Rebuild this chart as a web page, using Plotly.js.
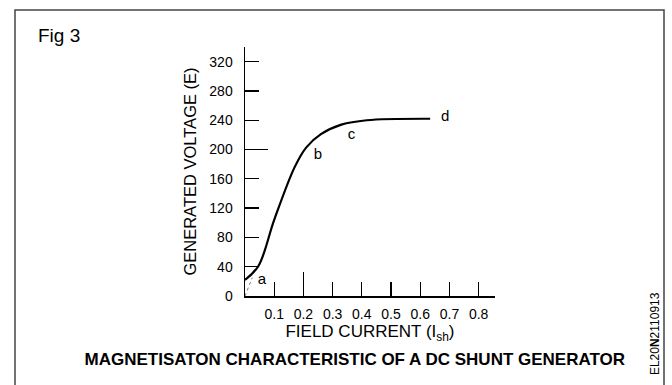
<!DOCTYPE html>
<html>
<head>
<meta charset="utf-8">
<script src="https://cdn.plot.ly/plotly-3.0.1.min.js"></script>
<style>html,body{margin:0;padding:0;background:#fff;}#chart{width:672px;height:385px;}</style>
</head>
<body>
<div id="chart"></div>
<script>
// Magnetisation curve (field current vs generated voltage)
const fieldCurrent = [0, 0.046, 0.1, 0.17, 0.21, 0.26, 0.33, 0.417, 0.634];
const generatedVoltage = [22, 41, 104, 176, 203, 221, 234, 240, 242];
// Residual-magnetism construction line
const residualX = [0, 0.025];
const residualY = [0, 25];
// Point labels on the curve
const pointLabels = ['a', 'b', 'c', 'd'];
const pointLabelX = [0.058, 0.25, 0.365, 0.685];
const pointLabelY = [22, 192, 220, 244];
// Axis ticks
const xTickVals = [0.1, 0.2, 0.3, 0.4, 0.5, 0.6, 0.7, 0.8];
const xTickText = ['0.1', '0.2', '0.3', '0.4', '0.5', '0.6', '0.7', '0.8'];
const yTickVals = [0, 40, 80, 120, 160, 200, 240, 280, 320];
const yTickText = ['0', '40', '80', '120', '160', '200', '240', '280', '320'];
const xLongTick = [0.2];
const yLongTick = [200];
const xRange = [0, 0.856];
const yRange = [0, 340];

const FONT = 'Liberation Sans, Arial, Helvetica, sans-serif';

const traces = [
  {
    x: residualX, y: residualY, type: 'scatter', mode: 'lines',
    line: {color: '#777', width: 1, dash: 'dot'}, hoverinfo: 'skip', showlegend: false
  },
  {
    x: fieldCurrent, y: generatedVoltage, type: 'scatter', mode: 'lines',
    line: {color: '#000', width: 2.2, shape: 'spline', smoothing: 1},
    showlegend: false, name: 'E'
  },
  {
    x: pointLabelX, y: pointLabelY, type: 'scatter', mode: 'text',
    text: pointLabels, textposition: 'middle center',
    textfont: {family: FONT, size: 15, color: '#000'}, showlegend: false, hoverinfo: 'skip'
  }
];

const layout = {
  width: 672, height: 385,
  margin: {l: 245, r: 177, t: 47, b: 89},
  paper_bgcolor: '#fff', plot_bgcolor: 'rgba(0,0,0,0)',
  font: {family: FONT, color: '#000', size: 12},
  showlegend: false,
  title: {
    text: '<b>MAGNETISATON CHARACTERISTIC OF A DC SHUNT GENERATOR</b>',
    font: {family: FONT, size: 17, color: '#000'},
    xref: 'container', yref: 'container', x: 0.528, y: 0.0675,
    xanchor: 'center', yanchor: 'middle'
  },
  xaxis: {
    range: xRange, showgrid: false, zeroline: false,
    showline: true, linecolor: '#000', linewidth: 1.5,
    ticks: 'inside', ticklen: 14, tickwidth: 1.3, tickcolor: '#000',
    tickmode: 'array', tickvals: xTickVals, ticktext: xTickText,
    tickfont: {family: FONT, size: 14, color: '#000'},
    ticklabelstandoff: 5,
    title: {text: 'FIELD CURRENT (I<sub>sh</sub>)', font: {family: FONT, size: 17, color: '#000'}, standoff: 3},
    automargin: false, fixedrange: true
  },
  yaxis: {
    range: yRange, showgrid: false, zeroline: false,
    showline: true, linecolor: '#000', linewidth: 1.5,
    ticks: 'inside', ticklen: 14, tickwidth: 1.3, tickcolor: '#000',
    tickmode: 'array', tickvals: yTickVals, ticktext: yTickText,
    tickfont: {family: FONT, size: 14, color: '#000'},
    ticklabelstandoff: 8,
    title: {text: 'GENERATED VOLTAGE (E)', font: {family: FONT, size: 16.5, color: '#000'}, standoff: 8},
    automargin: false, fixedrange: true
  },
  xaxis2: {
    overlaying: 'x', anchor: 'y', range: xRange, showgrid: false, zeroline: false, showline: false,
    ticks: 'inside', ticklen: 24, tickwidth: 1.3, tickcolor: '#000',
    tickmode: 'array', tickvals: xLongTick, showticklabels: false, fixedrange: true
  },
  yaxis2: {
    overlaying: 'y', anchor: 'x', range: yRange, showgrid: false, zeroline: false, showline: false,
    ticks: 'inside', ticklen: 23, tickwidth: 1.3, tickcolor: '#000',
    tickmode: 'array', tickvals: yLongTick, showticklabels: false, fixedrange: true
  },
  shapes: [
    {type: 'rect', xref: 'paper', yref: 'paper', x0: -0.92, x1: 1.676, y0: -0.5, y1: 1.1486,
     line: {color: '#444', width: 1.5}, fillcolor: 'rgba(0,0,0,0)', layer: 'below'}
  ],
  annotations: [
    {text: 'Fig 3', xref: 'paper', yref: 'paper', x: -0.836, y: 1.048, xanchor: 'left', yanchor: 'middle',
     showarrow: false, font: {family: FONT, size: 19, color: '#000'}},
    {text: 'EL20<b>N</b>2110913', xref: 'paper', yref: 'paper', x: 1.64, y: -0.153, xanchor: 'center', yanchor: 'middle',
     textangle: -90, showarrow: false, font: {family: FONT, size: 12, color: '#000'}}
  ]
};

// invisible trace to activate the overlay axes that carry the longer ticks
traces.push({x: [], y: [], xaxis: 'x2', yaxis: 'y2', type: 'scatter', mode: 'lines', showlegend: false, hoverinfo: 'skip'});

Plotly.newPlot('chart', traces, layout, {displayModeBar: false, staticPlot: true});
</script>
</body>
</html>
